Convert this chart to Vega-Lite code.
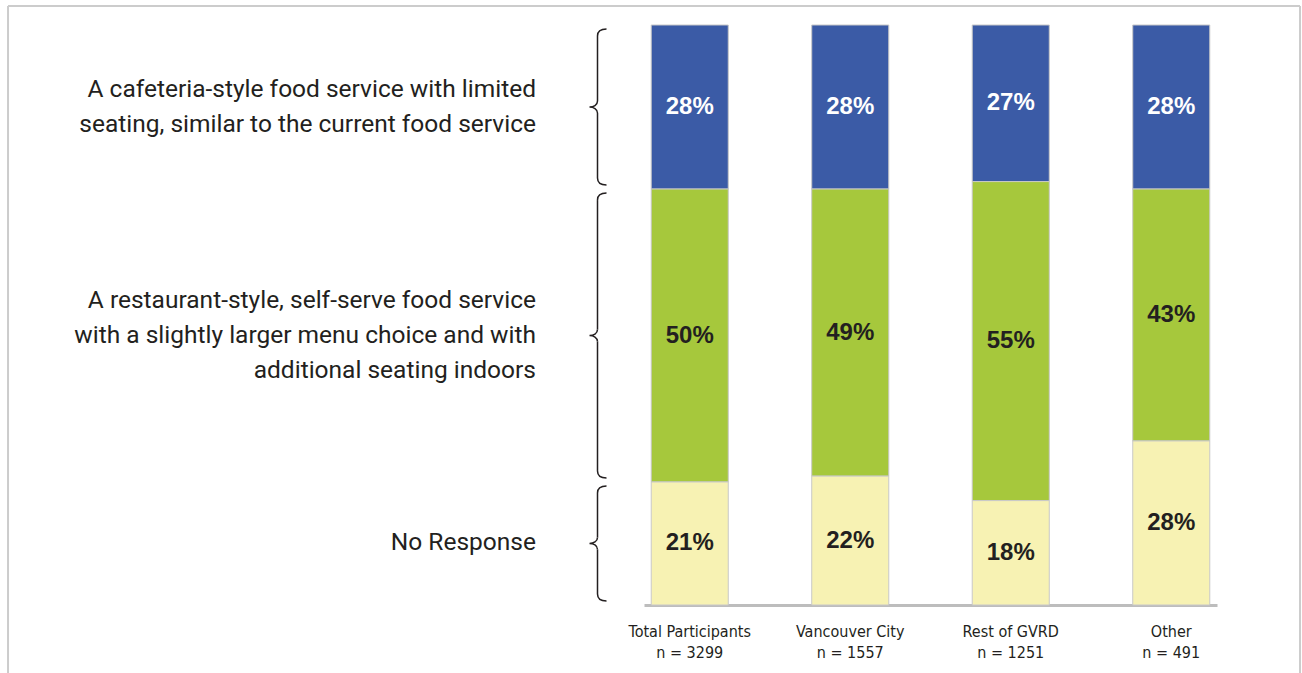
{
  "$schema": "https://vega.github.io/schema/vega-lite/v6.json",
  "width": 573,
  "height": 580,
  "autosize": {"type": "none"},
  "padding": {"left": 644, "top": 25, "right": 85, "bottom": 68},
  "background": "white",
  "config": {"view": {"stroke": null}},
  "data": {
    "values": [
      {"group": "Total Participants\nn = 3299", "option": "A cafeteria-style food service with limited\nseating, similar to the current food service", "value": 0.28},
      {"group": "Total Participants\nn = 3299", "option": "A restaurant-style, self-serve food service\nwith a slightly larger menu choice and with\nadditional seating indoors", "value": 0.50},
      {"group": "Total Participants\nn = 3299", "option": "No Response", "value": 0.21},
      {"group": "Vancouver City\nn = 1557", "option": "A cafeteria-style food service with limited\nseating, similar to the current food service", "value": 0.28},
      {"group": "Vancouver City\nn = 1557", "option": "A restaurant-style, self-serve food service\nwith a slightly larger menu choice and with\nadditional seating indoors", "value": 0.49},
      {"group": "Vancouver City\nn = 1557", "option": "No Response", "value": 0.22},
      {"group": "Rest of GVRD\nn = 1251", "option": "A cafeteria-style food service with limited\nseating, similar to the current food service", "value": 0.27},
      {"group": "Rest of GVRD\nn = 1251", "option": "A restaurant-style, self-serve food service\nwith a slightly larger menu choice and with\nadditional seating indoors", "value": 0.55},
      {"group": "Rest of GVRD\nn = 1251", "option": "No Response", "value": 0.18},
      {"group": "Other\nn = 491", "option": "A cafeteria-style food service with limited\nseating, similar to the current food service", "value": 0.28},
      {"group": "Other\nn = 491", "option": "A restaurant-style, self-serve food service\nwith a slightly larger menu choice and with\nadditional seating indoors", "value": 0.43},
      {"group": "Other\nn = 491", "option": "No Response", "value": 0.28}
    ]
  },
  "transform": [
    {"stack": "value", "groupby": ["group"], "sort": [{"field": "option", "order": "descending"}], "offset": "normalize", "as": ["y0", "y1"]},
    {"fold": ["y0", "y1"], "as": ["edge", "pos"]},
    {"aggregate": [{"op": "mean", "field": "pos", "as": "mid"}], "groupby": ["group", "option", "value", "y0", "y1"]}
  ],
  "layer": [
    {
      "encoding": {
        "x": {
          "field": "group",
          "type": "nominal",
          "sort": ["Total Participants\nn = 3299", "Vancouver City\nn = 1557", "Rest of GVRD\nn = 1251", "Other\nn = 491"],
          "scale": {"paddingInner": 0.52, "paddingOuter": 0.045},
          "axis": {
            "title": null,
            "labelAngle": 0,
            "ticks": false,
            "grid": false,
            "domainColor": "#bdbdbd",
            "domainWidth": 3,
            "labelFont": "Liberation Sans Narrow, DejaVu Sans Condensed, Roboto",
            "labelFontSize": 16,
            "labelColor": "#231f20",
            "labelPadding": 18,
            "labelLineHeight": 21,
            "labelBaseline": "top",
            "labelExpr": "split(datum.label, '\\n')"
          }
        }
      },
      "layer": [
        {
          "mark": {"type": "bar", "stroke": "#c8c8c8", "strokeWidth": 1},
          "encoding": {
            "y": {"field": "y0", "type": "quantitative", "scale": {"domain": [0, 1], "nice": false, "zero": false}, "axis": null},
            "y2": {"field": "y1"},
            "color": {
              "field": "option",
              "type": "nominal",
              "scale": {
                "domain": [
                  "A cafeteria-style food service with limited\nseating, similar to the current food service",
                  "A restaurant-style, self-serve food service\nwith a slightly larger menu choice and with\nadditional seating indoors",
                  "No Response"
                ],
                "range": ["#3b5ba6", "#a6c83c", "#f7f2b3"]
              },
              "legend": null
            }
          }
        },
        {
          "mark": {"type": "text", "font": "Liberation Sans", "fontWeight": "bold", "fontSize": 24, "baseline": "middle"},
          "encoding": {
            "y": {"field": "mid", "type": "quantitative", "scale": {"domain": [0, 1], "nice": false, "zero": false}, "axis": null},
            "text": {"field": "value", "type": "quantitative", "format": ".0%"},
            "color": {"condition": {"test": "indexof(datum.option, 'cafeteria') >= 0", "value": "#ffffff"}, "value": "#231f20"}
          }
        }
      ]
    },
    {
      "layer": [
        {
          "transform": [{"filter": {"and": [{"field": "group", "equal": "Total Participants\nn = 3299"}, {"field": "option", "equal": "A cafeteria-style food service with limited\nseating, similar to the current food service"}]}}],
          "mark": {"type": "text", "align": "right", "baseline": "middle", "lineBreak": "\n", "font": "Roboto", "fontSize": 24.5, "lineHeight": 35, "dy": -17.5, "color": "#231f20"},
          "encoding": {
            "x": {"datum": -18.85, "type": "quantitative", "scale": {"domain": [0, 100]}, "axis": null},
            "y": {"field": "mid", "type": "quantitative", "scale": {"domain": [0, 1], "nice": false, "zero": false}, "axis": null},
            "text": {"field": "option"}
          }
        },
        {
          "transform": [{"filter": {"and": [{"field": "group", "equal": "Total Participants\nn = 3299"}, {"field": "option", "equal": "A restaurant-style, self-serve food service\nwith a slightly larger menu choice and with\nadditional seating indoors"}]}}],
          "mark": {"type": "text", "align": "right", "baseline": "middle", "lineBreak": "\n", "font": "Roboto", "fontSize": 24.5, "lineHeight": 35, "dy": -35, "color": "#231f20"},
          "encoding": {
            "x": {"datum": -18.85, "type": "quantitative", "scale": {"domain": [0, 100]}, "axis": null},
            "y": {"field": "mid", "type": "quantitative", "scale": {"domain": [0, 1], "nice": false, "zero": false}, "axis": null},
            "text": {"field": "option"}
          }
        },
        {
          "transform": [{"filter": {"and": [{"field": "group", "equal": "Total Participants\nn = 3299"}, {"field": "option", "equal": "No Response"}]}}],
          "mark": {"type": "text", "align": "right", "baseline": "middle", "lineBreak": "\n", "font": "Roboto", "fontSize": 24.5, "lineHeight": 35, "color": "#231f20"},
          "encoding": {
            "x": {"datum": -18.85, "type": "quantitative", "scale": {"domain": [0, 100]}, "axis": null},
            "y": {"field": "mid", "type": "quantitative", "scale": {"domain": [0, 1], "nice": false, "zero": false}, "axis": null},
            "text": {"field": "option"}
          }
        },
        {
          "transform": [{"filter": {"field": "group", "equal": "Total Participants\nn = 3299"}}],
          "mark": {"type": "rule", "color": "#231f20", "strokeWidth": 1.5, "yOffset": 11, "y2Offset": -6},
          "encoding": {
            "x": {"datum": -8.115, "type": "quantitative", "scale": {"domain": [0, 100]}, "axis": null},
            "y": {"field": "y1", "type": "quantitative", "scale": {"domain": [0, 1], "nice": false, "zero": false}, "axis": null},
            "y2": {"field": "mid"}
          }
        },
        {
          "transform": [{"filter": {"field": "group", "equal": "Total Participants\nn = 3299"}}],
          "mark": {"type": "rule", "color": "#231f20", "strokeWidth": 1.5, "yOffset": 6, "y2Offset": -11},
          "encoding": {
            "x": {"datum": -8.115, "type": "quantitative", "scale": {"domain": [0, 100]}, "axis": null},
            "y": {"field": "mid", "type": "quantitative", "scale": {"domain": [0, 1], "nice": false, "zero": false}, "axis": null},
            "y2": {"field": "y0"}
          }
        },
        {
          "transform": [{"filter": {"field": "group", "equal": "Total Participants\nn = 3299"}}],
          "mark": {"type": "point", "shape": "M9,4 C3,4 0,6 0,11", "size": 4, "filled": false, "color": "#231f20", "strokeWidth": 1.5, "opacity": 1},
          "encoding": {
            "x": {"datum": -8.115, "type": "quantitative", "scale": {"domain": [0, 100]}, "axis": null},
            "y": {"field": "y1", "type": "quantitative", "scale": {"domain": [0, 1], "nice": false, "zero": false}, "axis": null}
          }
        },
        {
          "transform": [{"filter": {"field": "group", "equal": "Total Participants\nn = 3299"}}],
          "mark": {"type": "point", "shape": "M0,-11 C0,-6 3,-4 9,-4", "size": 4, "filled": false, "color": "#231f20", "strokeWidth": 1.5, "opacity": 1},
          "encoding": {
            "x": {"datum": -8.115, "type": "quantitative", "scale": {"domain": [0, 100]}, "axis": null},
            "y": {"field": "y0", "type": "quantitative", "scale": {"domain": [0, 1], "nice": false, "zero": false}, "axis": null}
          }
        },
        {
          "transform": [{"filter": {"field": "group", "equal": "Total Participants\nn = 3299"}}],
          "mark": {"type": "point", "shape": "M0,-6 C0,-2 -4,0 -8,0 C-4,0 0,2 0,6", "size": 4, "filled": false, "color": "#231f20", "strokeWidth": 1.5, "opacity": 1},
          "encoding": {
            "x": {"datum": -8.115, "type": "quantitative", "scale": {"domain": [0, 100]}, "axis": null},
            "y": {"field": "mid", "type": "quantitative", "scale": {"domain": [0, 1], "nice": false, "zero": false}, "axis": null}
          }
        },
        {
          "data": {"values": [{}]},
          "mark": {"type": "rule", "color": "#cccccc", "strokeWidth": 2},
          "encoding": {
            "x": {"datum": -110.99, "type": "quantitative", "scale": {"domain": [0, 100]}, "axis": null},
            "x2": {"datum": 114.49},
            "y": {"datum": 1.03276, "type": "quantitative", "scale": {"domain": [0, 1], "nice": false, "zero": false}, "axis": null}
          }
        },
        {
          "data": {"values": [{}]},
          "mark": {"type": "rule", "color": "#cccccc", "strokeWidth": 2},
          "encoding": {
            "x": {"datum": -110.99, "type": "quantitative", "scale": {"domain": [0, 100]}, "axis": null},
            "y": {"datum": 1.03276, "type": "quantitative", "scale": {"domain": [0, 1], "nice": false, "zero": false}, "axis": null},
            "y2": {"datum": -0.2}
          }
        },
        {
          "data": {"values": [{}]},
          "mark": {"type": "rule", "color": "#cccccc", "strokeWidth": 2},
          "encoding": {
            "x": {"datum": 114.49, "type": "quantitative", "scale": {"domain": [0, 100]}, "axis": null},
            "y": {"datum": 1.03276, "type": "quantitative", "scale": {"domain": [0, 1], "nice": false, "zero": false}, "axis": null},
            "y2": {"datum": -0.2}
          }
        }
      ]
    }
  ],
  "resolve": {"scale": {"x": "independent"}}
}
